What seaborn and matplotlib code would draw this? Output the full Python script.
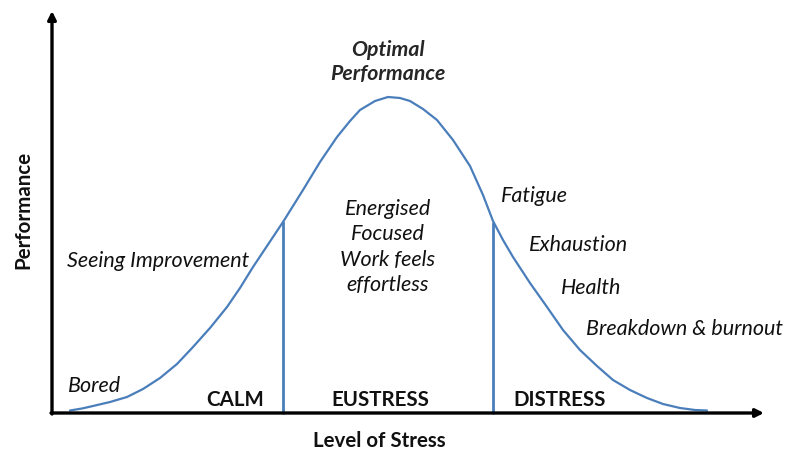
import numpy as np
import pandas as pd
import seaborn as sns
import matplotlib.pyplot as plt

# curve (arbitrary units)
stress = [18, 30, 41, 58, 75, 91, 108, 125, 141, 158, 175, 188, 201, 211, 221, 231,
          241, 251, 268, 285, 298, 308, 323, 336, 348, 358, 371, 385, 401, 418, 431,
          441, 451, 461, 478, 495, 511, 528, 545, 561, 578, 595, 611, 628, 643, 655]
performance = [2.5, 4.5, 7, 11, 16, 24, 35, 49, 66, 85, 106, 125, 146, 161, 176, 191,
               207, 223, 251, 276, 292, 303, 312, 316, 315, 312, 304, 293, 273, 247, 218,
               192, 173, 156, 130, 106, 83, 63, 47, 33, 23, 15, 9, 5, 3, 2.5]
zone_edges = [231, 441]
zone_top = [191, 190]
zones = ['CALM', 'EUSTRESS', 'DISTRESS']

df = pd.DataFrame({'stress': stress, 'performance': performance})

sns.set_theme(style='white')
plt.rcParams['font.family'] = ['Lato', 'DejaVu Sans']

fig = plt.figure(figsize=(8, 4.69), dpi=100)
ax = fig.add_axes([0, 0, 1, 1])
ax.set_xlim(-52, 748)
ax.set_ylim(-56, 413)
ax.axis('off')

blue = '#4a7ebb'
sns.lineplot(data=df, x='stress', y='performance', ax=ax, color=blue, lw=1.6,
             sort=False, solid_capstyle='round', solid_joinstyle='round')
for xe, yt in zip(zone_edges, zone_top):
    ax.plot([xe, xe], [0, yt], color=blue, lw=2)

# axes with arrows
arw = dict(arrowstyle='-|>', lw=2.4, color='black', mutation_scale=12, shrinkA=0, shrinkB=0)
ax.annotate('', xy=(712, 0), xytext=(-1, 0), arrowprops=arw, annotation_clip=False)
ax.annotate('', xy=(0, 402), xytext=(0, -1), arrowprops=arw, annotation_clip=False)

fs_i = 15.5
fs_b = 14.8
it = dict(fontsize=fs_i, style='italic', color='#111111')
bd = dict(fontsize=fs_b, weight='bold', color='#111111')

ax.text(336, 351, 'Optimal\nPerformance', ha='center', va='center', fontsize=fs_b + 0.5,
        weight='bold', style='italic', linespacing=1.3)
ax.text(336, 166, 'Energised\nFocused\nWork feels\neffortless', ha='center', va='center',
        linespacing=1.33, **it)
ax.text(449, 217, 'Fatigue', ha='left', va='center', **it)
ax.text(477, 168, 'Exhaustion', ha='left', va='center', **it)
ax.text(509, 125, 'Health', ha='left', va='center', **it)
ax.text(534, 84, 'Breakdown & burnout', ha='left', va='center', **it)
ax.text(15, 152, 'Seeing Improvement', ha='left', va='center', **it)
ax.text(16, 27, 'Bored', ha='left', va='center', **it)

for x, lab in zip([183, 328, 508], zones):
    ax.text(x, 13, lab, ha='center', va='center', **bd)

ax.text(327, -28, 'Level of Stress', ha='center', va='center', **bd)
ax.text(-29, 203, 'Performance', ha='center', va='center', rotation=90, **bd)

fig.savefig('out.png', dpi=100)
